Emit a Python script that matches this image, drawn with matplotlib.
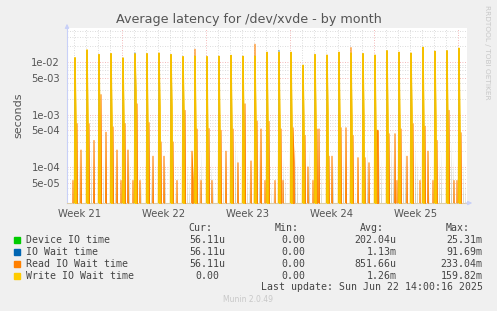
import numpy as np
import matplotlib
matplotlib.use("Agg")
import matplotlib.pyplot as plt

# ---------------- data ----------------
# one main spike per day (33 days), values in seconds
main_write = [1.22e-2, 1.72e-2, 1.40e-2, 1.46e-2, 1.21e-2, 1.45e-2, 1.46e-2, 1.50e-2,
              1.40e-2, 1.28e-2, 1.30e-2, 1.28e-2, 1.30e-2, 1.35e-2, 1.30e-2, 1.30e-2,
              1.55e-2, 1.55e-2, 1.55e-2, 1.27e-2, 1.40e-2, 1.37e-2, 1.55e-2, 1.50e-2,
              1.46e-2, 1.37e-2, 1.66e-2, 1.55e-2, 1.50e-2, 1.93e-2, 1.62e-2, 1.66e-2, 1.85e-2]
main_read = [0, 0, 0, 0, 0, 0, 0, 0, 0, 0, 1.77e-2, 0, 0, 0, 0, 2.2e-2,
             0, 0, 0, 0, 0, 0, 0, 1.9e-2, 0, 0, 0, 0, 0, 0, 0, 0, 0]
main_wait = [6e-3, 7e-3, 6e-3, 6e-3, 5e-3, 1.52e-2, 6e-3, 6e-3,
             6e-3, 5e-3, 7e-3, 5e-3, 5e-3, 6e-3, 5e-3, 7e-3,
             6e-3, 1.7e-2, 6e-3, 5e-3, 6e-3, 6e-3, 6e-3, 7e-3,
             6e-3, 6e-3, 7e-3, 6e-3, 6e-3, 8e-3, 7e-3, 7e-3, 8e-3]
# secondary write peak just after the main spike
sec_write = [6.7e-4, 7.5e-4, 6.7e-4, 7.9e-4, 7.0e-4, 2.8e-3, 5.0e-4, 1.4e-3,
             1.4e-3, 1.1e-3, 4.5e-4, 2.0e-4, 4.5e-4, 6.0e-4, 4.5e-4, 7.0e-4,
             6.7e-4, 6.3e-4, 6.9e-4, 6.3e-4, 7.9e-4, 1.1e-3, 6.7e-4, 7.5e-4,
             7.5e-4, 4.5e-4, 7.9e-4, 5.8e-4, 1.1e-3, 5.0e-4, 6.7e-4, 5.0e-4, 5.0e-4]
# secondary read peak
sec_read = [6.7e-4, 6.7e-4, 2.4e-3, 5.8e-4, 6.7e-4, 1.6e-3, 7.0e-4, 3.0e-4,
            3.0e-4, 1.2e-3, 5.3e-4, 5.4e-4, 5.0e-4, 5.3e-4, 1.6e-3, 7.5e-4,
            7.4e-4, 5.3e-4, 5.6e-4, 4.0e-4, 5.3e-4, 1.6e-4, 5.6e-4, 4.0e-4,
            1.5e-4, 5.0e-4, 4.3e-4, 5.3e-4, 6.7e-4, 6.0e-4, 3.2e-4, 1.2e-3, 4.5e-4]
# third read peak: offset after main spike (hours) and value
third_read_off = [12, 14, 14, 12, 10, 10, 12, 10, 12, 18, 12, 10, 14, 14, 16, 12,
                  16, 8, 6, 10, 9, 10, 14, 14, 12, 6, 16, 16, 18, 10, 4, 14, 18]
third_read = [2.1e-4, 3.2e-4, 4.6e-4, 2.1e-4, 2.1e-4, 5.5e-5, 1.6e-4, 1.6e-4,
              5.5e-5, 2.0e-4, 5.5e-5, 5.5e-5, 2.0e-4, 1.2e-4, 1.3e-4, 5.3e-4,
              5.5e-5, 5.5e-5, 1.2e-4, 1.0e-4, 5.3e-4, 1.6e-4, 5.6e-4, 1.5e-4,
              1.2e-4, 5.0e-4, 4.3e-4, 1.6e-4, 5.5e-5, 2.0e-4, 3.2e-4, 5.5e-5, 5.5e-5]
# small read spikes before the main spike
early_read = [5.5e-5, 0, 0, 0, 5.5e-5, 5.5e-5, 0, 0, 0, 0, 5.5e-5, 0, 0, 0, 0, 0,
              5.5e-5, 0, 0, 0, 5.5e-5, 0, 0, 0, 0, 0, 0, 5.5e-5, 0, 0, 5.5e-5, 0, 5.5e-5]
# device IO time bumps (two per day: +8 h and +12 h after the main spike)
device = [2.0e-4, 2.5e-4, 1.5e-4, 1.2e-4, 2.5e-4, 1.0e-4, 1.0e-4, 6.0e-5,
          5.0e-5, 1.1e-4, 1.1e-4, 1.3e-4, 9.0e-5, 3.8e-4, 1.0e-4, 3.0e-4,
          5.0e-5, 1.5e-4, 2.4e-4, 1.5e-4, 1.6e-4, 1.0e-4, 2.0e-4, 4.0e-5,
          2.5e-4, 2.0e-4, 3.0e-4, 1.5e-4, 3.0e-4, 5.0e-5, 1.5e-4, 3.0e-4, 1.2e-4]
device_b = [1.2e-4, 1.5e-4, 2.0e-4, 8.0e-5, 1.5e-4, 6.0e-5, 8.0e-5, 1.2e-4,
            4.0e-5, 8.0e-5, 2.0e-4, 6.0e-5, 1.5e-4, 2.0e-4, 8.0e-5, 1.6e-4,
            4.0e-5, 8.0e-5, 1.2e-4, 2.5e-4, 1.0e-4, 1.2e-4, 1.5e-4, 5.0e-5,
            1.2e-4, 1.5e-4, 2.0e-4, 2.0e-4, 1.5e-4, 4.0e-5, 2.0e-4, 1.5e-4, 6.0e-5]
extra_write_day = 19.7   # extra tall write spike (days from start)
extra_write = 8.8e-3

week_labels = ["Week 21", "Week 22", "Week 23", "Week 24", "Week 25"]
legend_names = ["Device IO time", "IO Wait time", "Read IO Wait time", "Write IO Wait time"]
cur = ["56.11u", "56.11u", "56.11u", "0.00"]
mn = ["0.00", "0.00", "0.00", "0.00"]
avg = ["202.04u", "1.13m", "851.66u", "1.26m"]
mx = ["25.31m", "91.69m", "233.04m", "159.82m"]
colors = ["#00CC00", "#0066B3", "#FF8000", "#FFCC00"]

# ---------------- build series on a 2-hour grid ----------------
N = 400                      # 33.33 days of 2h steps
t = np.arange(N) / 12.0      # days
first_spike = 8              # 2h-steps from start to first daily spike
ser_dev = np.zeros(N); ser_wait = np.zeros(N); ser_read = np.zeros(N); ser_write = np.zeros(N)

def put(arr, i, v):
    if 0 <= i < N:
        arr[i] = max(arr[i], v)

for k in range(33):
    i0 = first_spike + 12 * k
    put(ser_write, i0, main_write[k])
    put(ser_read, i0, main_read[k])
    put(ser_wait, i0, main_wait[k])
    put(ser_write, i0 + 1, sec_write[k])
    put(ser_read, i0 + 2, sec_read[k])
    put(ser_read, i0 + third_read_off[k] // 2, third_read[k])
    put(ser_read, i0 - 2, early_read[k])
    put(ser_dev, i0 + 4, device[k])
    put(ser_dev, i0 + 6, device_b[k])
ser_write[int(round(extra_write_day * 12))] = extra_write
ser_dev[0] = 1.9e-4

# ---------------- figure ----------------
W, H = 497, 311
fig = plt.figure(figsize=(W / 100, H / 100), dpi=100, facecolor="#F0F0F0")
L, R, T, B = 67, 467, 28, 203
ax = fig.add_axes([L / W, 1 - B / H, (R - L) / W, (B - T) / H])
ax.set_facecolor("white")
ax.set_yscale("log")
ymin, ymax = 2.05e-5, 4.5e-2
ax.set_ylim(ymin, ymax)
ax.set_xlim(0, N / 12.0)

# grid
for dec in [1e-5, 1e-4, 1e-3, 1e-2]:
    for m in range(1, 10):
        v = dec * m
        if ymin < v < ymax:
            major = m in (1, 5)
            ax.axhline(v, color="#F0A0A0" if major else "#D0D0D0", lw=0.6,
                       ls=(0, (1, 2)), zorder=1)
red_off = 55 / 12.0
for d in np.arange(0, 34):
    x = red_off + d - 5
    if 0 < x < N / 12.0:
        weekly = abs(((x - red_off) / 7) - round((x - red_off) / 7)) < 1e-6
        ax.axvline(x, color="#F0A0A0" if weekly else "#D0D0D0", lw=0.6,
                   ls=(0, (1, 2)), zorder=1)

floor = 1e-7
def draw(series, color, fillcolor, alpha, z, lw):
    y = np.maximum(series, floor)
    ax.fill_between(t, floor, y, color=fillcolor, alpha=alpha, lw=0, zorder=z)
    if lw > 0:
        ax.plot(t, y, color=color, lw=lw, zorder=z + 0.1)

draw(ser_dev, "#9a9a78", "#9c9c7c", 0.8, 2, 0)
draw(ser_wait, colors[1], colors[1], 1.0, 3, 0.5)
draw(ser_read, colors[2], colors[2], 1.0, 4, 0.8)
draw(ser_write, "#F5C000", colors[3], 1.0, 5, 1.0)

# ticks
yt = [1e-2, 5e-3, 1e-3, 5e-4, 1e-4, 5e-5]
ax.set_yticks(yt)
ax.set_yticklabels(["1e-02", "5e-03", "1e-03", "5e-04", "1e-04", "5e-05"])
ax.yaxis.set_minor_locator(matplotlib.ticker.NullLocator())
week_centers = [red_off - 3.5 + 7 * i for i in range(5)]
ax.set_xticks(week_centers)
ax.set_xticklabels(week_labels)
ax.tick_params(axis="both", length=0, labelsize=7.2, colors="#555555")
ax.tick_params(axis="y", pad=5)
ax.tick_params(axis="x", pad=4)
for s in ["top", "right"]:
    ax.spines[s].set_visible(False)
ax.spines["left"].set_color("#C8D0F8")
ax.spines["bottom"].set_color("#DCCCA8")
ax.spines["left"].set_linewidth(0.8)
ax.spines["bottom"].set_linewidth(0.8)
ax.set_ylabel("seconds", fontsize=8, color="#555555", labelpad=6)
# axis arrows
ax.annotate("", xy=(0, 1.04), xytext=(0, 0.98), xycoords="axes fraction",
            arrowprops=dict(arrowstyle="-|>", color="#C8D0F8", lw=0.8, mutation_scale=6),
            annotation_clip=False)
ax.annotate("", xy=(1.02, 0), xytext=(0.99, 0), xycoords="axes fraction",
            arrowprops=dict(arrowstyle="-|>", color="#C8D0F8", lw=0.8, mutation_scale=6),
            annotation_clip=False)

def fx(x): return x / W
def fy(y): return 1 - y / H

fig.text(fx(248.5), fy(20), "Average latency for /dev/xvde - by month", ha="center",
         va="center", fontsize=9.2, color="#555555")
fig.text(fx(487), fy(5), "RRDTOOL / TOBI OETIKER", rotation=270, ha="center", va="top",
         fontsize=5.3, color="#C8C8C8")

mono = dict(family="DejaVu Sans Mono", fontsize=7.1, color="#444444", va="center")
cw = 5.97
hdr_y = 228.3
fig.text(fx(212.3), fy(hdr_y), "Cur:", ha="right", **mono)
fig.text(fx(299), fy(hdr_y), "Min:", ha="right", **mono)
fig.text(fx(384.3), fy(hdr_y), "Avg:", ha="right", **mono)
fig.text(fx(470), fy(hdr_y), "Max:", ha="right", **mono)
col_right = [225.3, 311.3, 396.7, 482.7]
for r in range(4):
    y = 239.7 + 12 * r
    fig.patches.append(matplotlib.patches.Rectangle((fx(14), fy(y + 3)), 6 / W, 6 / H,
                       transform=fig.transFigure, color=colors[r], figure=fig))
    fig.text(fx(26), fy(y), legend_names[r], ha="left", **mono)
    for c, vals in enumerate([cur, mn, avg, mx]):
        s = vals[r]
        xr = col_right[c] - (cw if s[-1].isdigit() else 0)
        fig.text(fx(xr), fy(y), s, ha="right", **mono)
fig.text(fx(482.7), fy(287), "Last update: Sun Jun 22 14:00:16 2025", ha="right", **mono)
fig.text(fx(248), fy(300), "Munin 2.0.49", ha="center", va="center", fontsize=5.5,
         color="#C8C8C8")

fig.savefig("out.png", dpi=100, facecolor=fig.get_facecolor())
